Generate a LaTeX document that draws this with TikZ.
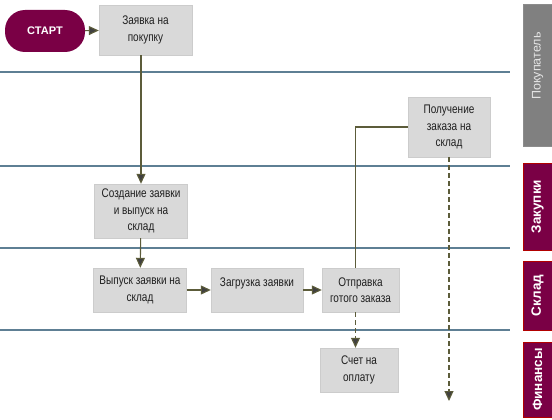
\documentclass[tikz,border=0pt]{standalone}
\usepackage{fontspec}
\setmainfont{Liberation Sans}
\newfontfamily\narrowsans{Liberation Sans}[FakeStretch=0.8]
\usetikzlibrary{arrows.meta}
\definecolor{plum}{HTML}{7A0045}
\definecolor{laneline}{HTML}{5E7F94}
\definecolor{flow}{HTML}{5C5C3A}

\begin{document}
\begin{tikzpicture}[x=1pt,y=-1pt,
  box/.style={draw=black!20,fill=black!15,align=center,inner sep=1pt,font=\narrowsans\fontsize{12.5}{16.5}\selectfont,text=black!88},
  lanetag/.style={draw=red!70!black,fill=plum,text=white,font=\fontsize{13.5}{14}\selectfont\bfseries,rotate=90},
  arr/.style={draw=flow,line width=1.1pt,-{Triangle[length=10pt,width=9pt,fill=black!75]}}]
\useasboundingbox (0,0) rectangle (552,420);
% lane separators
\foreach \y in {72,166,248,330}
  \draw [laneline,line width=1.6pt] (0,\y) -- (510,\y);
% lane names
\node [lanetag,draw=black!45,fill=black!50,text=black!10,minimum width=142pt,minimum height=29pt,font=\fontsize{12.5}{13}\selectfont] (buyer) at (537.5,75) {\hspace*{18pt}Покупатель};
\node [lanetag,minimum width=87pt,minimum height=29pt] (purch) at (537.5,206.5) {Закупки};
\node [lanetag,minimum width=69pt,minimum height=29pt] (store) at (537.5,295.5) {Склад};
\node [lanetag,minimum width=75pt,minimum height=29pt] (fin) at (537.5,379.5) {Финансы};
% steps
\node [fill=plum,rounded corners=20pt,minimum width=80pt,minimum height=42pt,text=white,font=\fontsize{11}{12}\selectfont\bfseries] (start) at (45,31) {СТАРТ};
\node [box,minimum width=93pt,minimum height=50pt] (req) at (145.5,30) {Заявка на\\покупку};
\node [box,minimum width=82pt,minimum height=60pt] (recv) at (449,127) {Получение\\заказа на\\склад};
\node [box,minimum width=93pt,minimum height=54pt] (create) at (141,211) {Создание заявки\\и выпуск на\\склад};
\node [box,minimum width=93pt,minimum height=44pt] (issue) at (140,290) {Выпуск заявки на\\склад};
\node [box,minimum width=92pt,minimum height=44pt] (load) at (257,290) {Загрузка заявки\\\mbox{}};
\node [box,minimum width=77pt,minimum height=44pt] (send) at (360.5,290) {Отправка\\готого заказа};
\node [box,minimum width=78pt,minimum height=44pt] (bill) at (359,370) {Счет на\\оплату};
\coordinate (tail) at (449,401);
% flow
\draw [arr] (start) -- (req);
\draw [arr] (create |- req.south) -- (create.north);
\draw [arr] (create) -- (issue);
\draw [arr] (issue) -- (load);
\draw [arr] (load) -- (send);
\draw [draw=flow,line width=1.1pt] ([xshift=-5pt]send.north) |- (recv.west);
\draw [arr,dash pattern=on 5pt off 3pt] ([xshift=-5pt]send.south) -- ([xshift=-5pt]send.south |- bill.north);
\draw [arr,dash pattern=on 5pt off 3pt] (recv) -- (tail);
\end{tikzpicture}
\end{document}
